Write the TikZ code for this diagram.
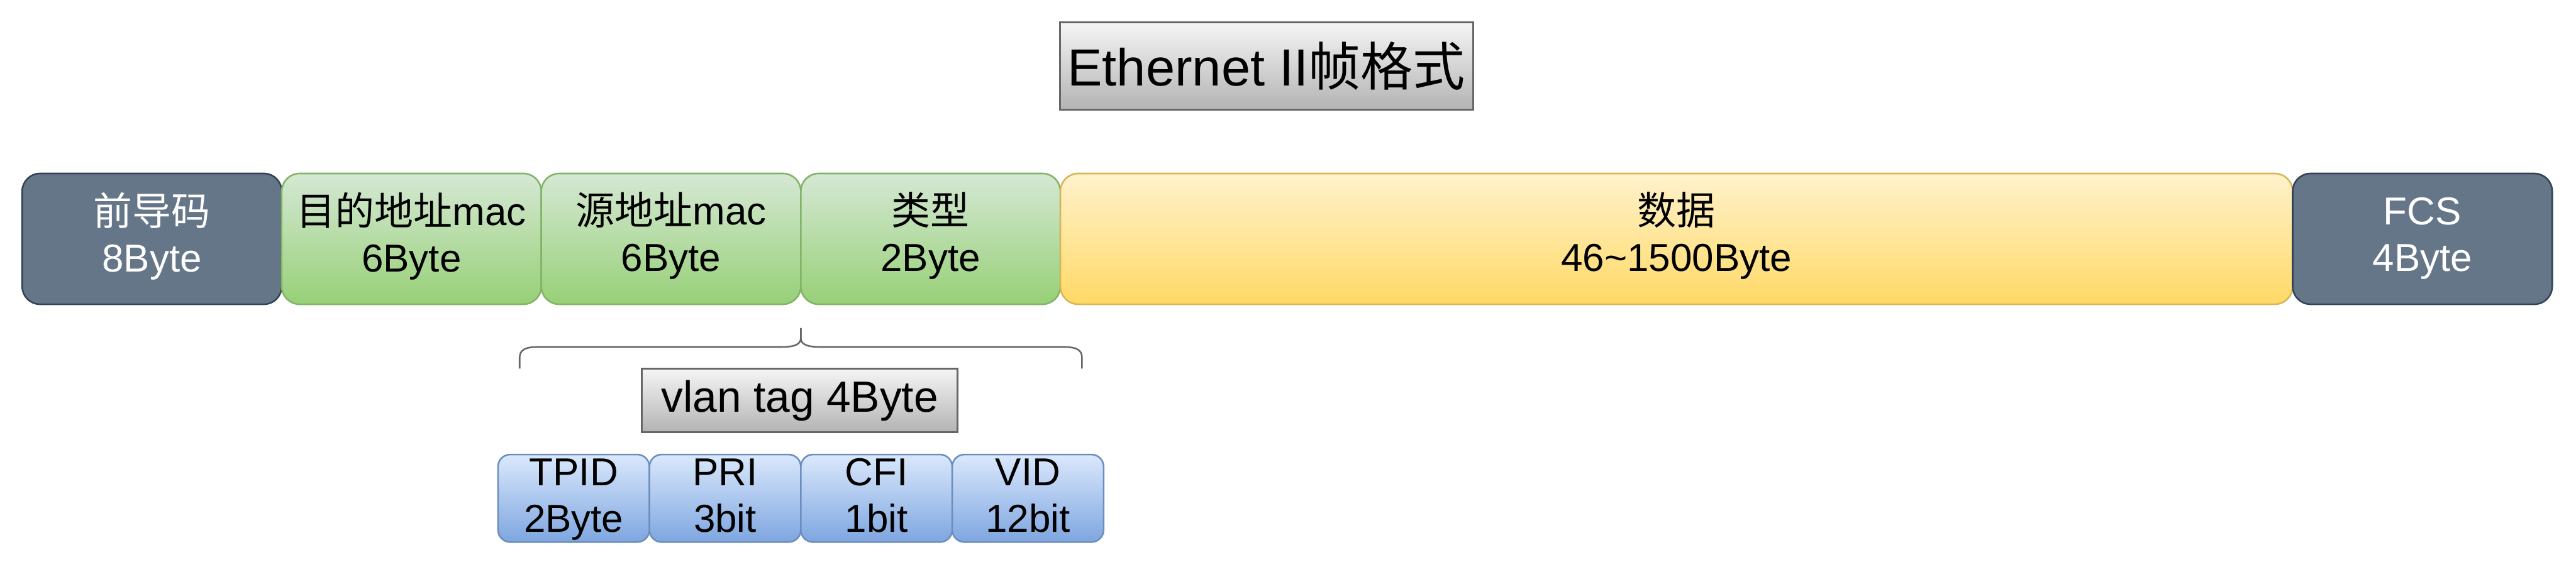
\documentclass[tikz,border=0pt]{standalone}
\usepackage{fontspec}
\setmainfont{Liberation Sans}
\newfontfamily\cjk{Noto Sans CJK SC}
\usetikzlibrary{positioning}

\definecolor{slatefill}{HTML}{647687}
\definecolor{slateline}{HTML}{314354}
\definecolor{greentop}{HTML}{D5E8D4}
\definecolor{greenbot}{HTML}{97D077}
\definecolor{greenline}{HTML}{82B366}
\definecolor{yellowtop}{HTML}{FFF2CC}
\definecolor{yellowbot}{HTML}{FFD966}
\definecolor{yellowline}{HTML}{D6B656}
\definecolor{bluetop}{HTML}{DAE8FC}
\definecolor{bluebot}{HTML}{7EA6E0}
\definecolor{blueline}{HTML}{6C8EBF}
\definecolor{captiontop}{HTML}{F5F5F5}
\definecolor{captionbot}{HTML}{B3B3B3}
\definecolor{captionline}{HTML}{666666}

% strut for the small tag fields
\newcommand\tagstrut{\rule[-9pt]{0pt}{40pt}}

\tikzset{
  field/.style={rounded corners=0.66cm, line width=1.7pt, minimum width=9.6cm,
    minimum height=4.84cm, inner sep=0pt, outer sep=0pt, align=center,
    font=\fontsize{41}{49}\selectfont},
  darkfield/.style={field, draw=slateline, fill=slatefill, text=white},
  greenfield/.style={field, draw=greenline, top color=greentop, bottom color=greenbot},
  yellowfield/.style={field, draw=yellowline, top color=yellowtop, bottom color=yellowbot},
  tagfield/.style={field, rounded corners=0.45cm, minimum width=5.6cm,
    minimum height=3.24cm, draw=blueline, top color=bluetop, bottom color=bluebot},
  caption/.style={draw=captionline, line width=2pt, top color=captiontop,
    bottom color=captionbot, inner sep=0pt, outer sep=0pt},
  bracket/.style={draw=captionline, line width=1.7pt}
}

\begin{document}
\begin{tikzpicture}
  \useasboundingbox (0,0) rectangle (95.28,20.96);

  % title
  \node[caption, minimum width=15.28cm, minimum height=3.24cm, font=\fontsize{55}{66}\selectfont]
    (title) at (46.84,18.52) {Ethernet II{\cjk 帧格式}};

  % frame fields
  \node[darkfield] (pre) at (5.62,12.12) {\strut{\cjk 前导码}\\\strut 8Byte};
  \node[greenfield, right=0pt of pre] (dst) {\strut{\cjk 目的地址}mac\\\strut 6Byte};
  \node[greenfield, right=0pt of dst] (src) {\strut{\cjk 源地址}mac\\\strut 6Byte};
  \node[greenfield, right=0pt of src] (type) {\strut{\cjk 类型}\\\strut 2Byte};
  \node[yellowfield, right=0pt of type, minimum width=45.58cm] (data)
    {\strut{\cjk 数据}\\\strut 46\textasciitilde1500Byte};
  \node[darkfield, right=0pt of data] (fcs) {\strut FCS\\\strut 4Byte};

  % brace under the vlan tag position
  \coordinate (tip) at ([yshift=-0.88cm]src.south east);
  \draw[bracket] (tip) -- ++(0,-0.37) .. controls +(0,-0.23) and +(0.5,0) .. ++(-0.72,-0.33)
    -- ++(-9,0) .. controls +(-0.5,0) and +(0,0.28) .. ++(-0.68,-0.40) -- ++(0,-0.40);
  \draw[bracket] (tip) -- ++(0,-0.37) .. controls +(0,-0.23) and +(-0.5,0) .. ++(0.72,-0.33)
    -- ++(9,0) .. controls +(0.5,0) and +(0,0.28) .. ++(0.68,-0.40) -- ++(0,-0.40);

  \node[caption, minimum width=11.68cm, minimum height=2.36cm, font=\fontsize{46}{55}\selectfont]
    (vlan) at (29.58,6.14) {vlan tag 4Byte};

  % vlan tag fields
  \node[tagfield] (tpid) at (21.22,2.52) {\tagstrut TPID\\\tagstrut 2Byte};
  \node[tagfield, right=0pt of tpid] (pri) {\tagstrut PRI\\\tagstrut 3bit};
  \node[tagfield, right=0pt of pri] (cfi) {\tagstrut CFI\\\tagstrut 1bit};
  \node[tagfield, right=0pt of cfi] (vid) {\tagstrut VID\\\tagstrut 12bit};
\end{tikzpicture}
\end{document}
